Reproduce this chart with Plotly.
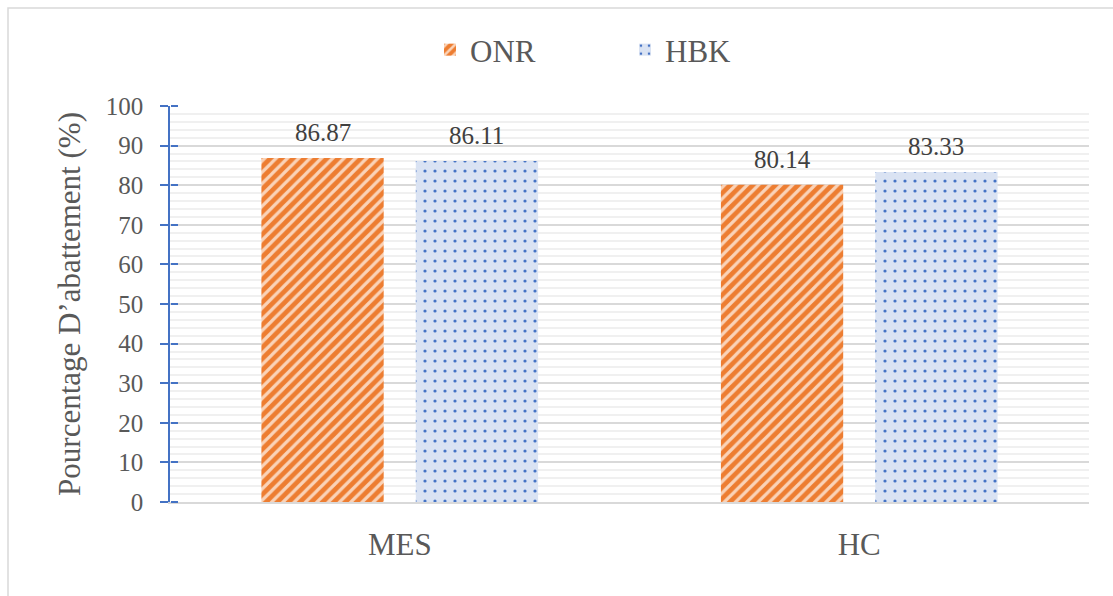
import plotly.graph_objects as go

# Abatement percentages by parameter and treatment
categories = ["MES", "HC"]
onr_values = [86.87, 80.14]
hbk_values = [86.11, 83.33]
series_names = ["ONR", "HBK"]
y_ticks = [0, 10, 20, 30, 40, 50, 60, 70, 80, 90, 100]

W, H = 1113, 596
ML, MR, MT, MB = 170, 24, 106, 94
PW = W - ML - MR
PH = H - MT - MB

FONT = "Liberation Serif"
TXT = "#595959"
BLUE = "#4472C4"

fig = go.Figure()
fig.add_trace(go.Bar(
    name=series_names[0], x=categories, y=onr_values,
    marker=dict(
        color="#ED7D31", line=dict(width=0),
        pattern=dict(shape="/", bgcolor="#ED7D31", fgcolor="#FAD3B8",
                     size=8, solidity=0.4, fillmode="replace"),
    ),
))
fig.add_trace(go.Bar(
    name=series_names[1], x=categories, y=hbk_values,
    marker=dict(
        color="#DAE3F3", line=dict(width=0),
        pattern=dict(shape=".", bgcolor="#DAE3F3", fgcolor=BLUE,
                     size=10, solidity=0.08, fillmode="replace"),
    ),
))
# empty trace so the overlaid axis carrying the inner tick marks is drawn
fig.add_trace(go.Scatter(
    x=categories, y=[None, None], yaxis="y2", mode="lines",
    showlegend=False, hoverinfo="skip",
))

# value labels above each bar
bargap, bargroupgap = 0.328, 0.208
slot_px = PW / len(categories) * (1 - bargap) / 2
annotations = []
for vals, sign in ((onr_values, -1), (hbk_values, 1)):
    for cat, v in zip(categories, vals):
        annotations.append(dict(
            x=cat, y=v, xref="x", yref="y", text=f"{v:.2f}",
            showarrow=False, yanchor="bottom", xshift=sign * slot_px / 2,
            yshift=10, font=dict(family=FONT, size=25, color="#404040"),
        ))

# chart frame
fx0 = (8 - ML) / PW
fx1 = (W + 5 - ML) / PW
fy0 = -(H + 5 - MT - PH) / PH
fy1 = (H - 8 - MB) / PH
shapes = [dict(type="rect", xref="paper", yref="paper",
               x0=fx0, x1=fx1, y0=fy0, y1=fy1,
               line=dict(color="#D9D9D9", width=1.5), layer="below")]

fig.update_layout(
    width=W, height=H,
    margin=dict(l=ML, r=MR, t=MT, b=MB),
    paper_bgcolor="white", plot_bgcolor="white",
    barmode="group", bargap=bargap, bargroupgap=bargroupgap,
    font=dict(family=FONT, color=TXT),
    showlegend=True,
    legend=dict(
        orientation="h", x=(625 - ML) / PW, xanchor="center",
        y=(H - MB - 50) / PH, yanchor="middle",
        font=dict(family=FONT, size=31, color=TXT),
        entrywidth=150, entrywidthmode="pixels",
        bgcolor="rgba(0,0,0,0)",
    ),
    annotations=annotations,
    shapes=shapes,
    xaxis=dict(
        showline=True, linecolor="#D9D9D9", linewidth=1.5,
        showgrid=False, ticks="", ticklabelstandoff=14,
        tickfont=dict(family=FONT, size=31, color=TXT),
    ),
    yaxis=dict(
        range=[0, 100], tickvals=y_ticks,
        showline=True, linecolor=BLUE, linewidth=1.5,
        ticks="outside", ticklen=8, tickcolor=BLUE, tickwidth=1.5,
        ticklabelstandoff=12,
        showgrid=True, gridcolor="#D9D9D9", gridwidth=1.5,
        minor=dict(dtick=2, showgrid=True, gridcolor="#F0F0F0", gridwidth=1.5),
        zeroline=False,
        tickfont=dict(family=FONT, size=25, color=TXT),
        title=dict(text="Pourcentage D’abattement (%)", standoff=16,
                   font=dict(family=FONT, size=31, color=TXT)),
    ),
    # inner half of the crossing tick marks, pointing into the plot
    yaxis2=dict(
        overlaying="y", anchor="free", position=0, side="right",
        range=[0, 100], tickvals=y_ticks, ticks="outside", ticklen=7,
        tickcolor=BLUE, tickwidth=1.5, showticklabels=False,
        showgrid=False, showline=False, zeroline=False,
    ),
)

fig.write_html("out.html")
